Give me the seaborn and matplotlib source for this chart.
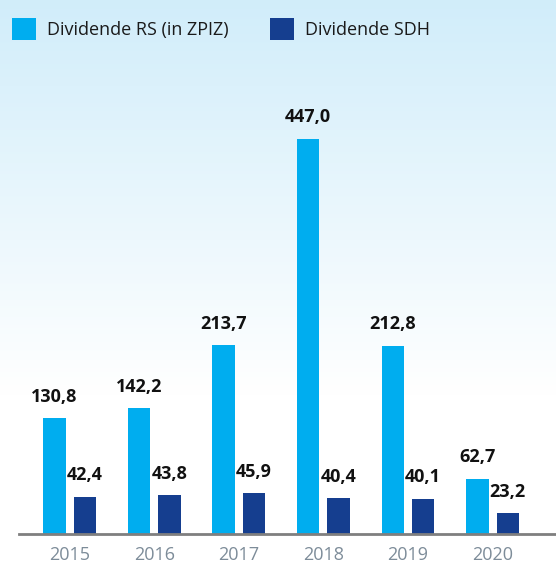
import numpy as np
import pandas as pd
import seaborn as sns
import matplotlib.pyplot as plt

# podatki
years = ['2015', '2016', '2017', '2018', '2019', '2020']
rs_values = [130.8, 142.2, 213.7, 447.0, 212.8, 62.7]
sdh_values = [42.4, 43.8, 45.9, 40.4, 40.1, 23.2]
series = ['Dividende RS (in ZPIZ)', 'Dividende SDH']

df = pd.DataFrame({
    'Leto': years * 2,
    'Vrednost': rs_values + sdh_values,
    'Serija': [series[0]] * len(years) + [series[1]] * len(years),
})

sns.set_style('white')
plt.rcParams['font.family'] = ['Open Sans', 'DejaVu Sans']

fig = plt.figure(figsize=(5.56, 5.63), dpi=100)

# ozadje z gradientom (zgoraj svetlo modro, spodaj belo)
bg = fig.add_axes([0, 0, 1, 1], zorder=0)
t = np.clip(np.linspace(0, 1, 300) / 0.70, 0, 1)[:, None]
top = np.array([0.82, 0.93, 0.98])
bottom = np.array([1.0, 1.0, 1.0])
img = (top * (1 - t) + bottom * t)[:, None, :]
bg.imshow(img, aspect='auto', extent=[0, 1, 0, 1])
bg.axis('off')

ax = fig.add_axes([19 / 556, 29 / 563, 537 / 556, 434 / 563], zorder=1)
ax.patch.set_alpha(0)
sns.barplot(data=df, x='Leto', y='Vrednost', hue='Serija',
            palette=['#00adef', '#153e8f'], width=0.72, gap=0.26,
            saturation=1, linewidth=0, edgecolor='none', ax=ax)

handles, labels = ax.get_legend_handles_labels()
ax.get_legend().remove()
for h in handles:
    h.set_edgecolor('none')
    h.set_linewidth(0)

for cont, vals in zip(ax.containers, [rs_values, sdh_values]):
    ax.bar_label(cont, labels=[f'{v:.1f}'.replace('.', ',') for v in vals],
                 padding=9, fontsize=13, fontweight='bold', color='#111111')

ax.set_xlim(-0.60, 5.75)
ax.set_ylim(0, 491)
ax.set_xlabel('')
ax.set_ylabel('')
ax.set_yticks([])
for s in ['top', 'left', 'right']:
    ax.spines[s].set_visible(False)
ax.spines['bottom'].set_color('#7f7f7f')
ax.spines['bottom'].set_linewidth(2)
ax.tick_params(axis='x', length=0, pad=9, labelsize=13, labelcolor='#7d8c99')

fig.legend(handles, labels, loc='upper left', bbox_to_anchor=(12 / 556, 1 - 18 / 563),
           ncol=2, frameon=False, fontsize=13, handlelength=1.33,
           handleheight=1.5, handletextpad=0.6, columnspacing=2.3,
           borderpad=0, borderaxespad=0, labelcolor='#1a1a1a')

plt.savefig('out.png', dpi=100)
